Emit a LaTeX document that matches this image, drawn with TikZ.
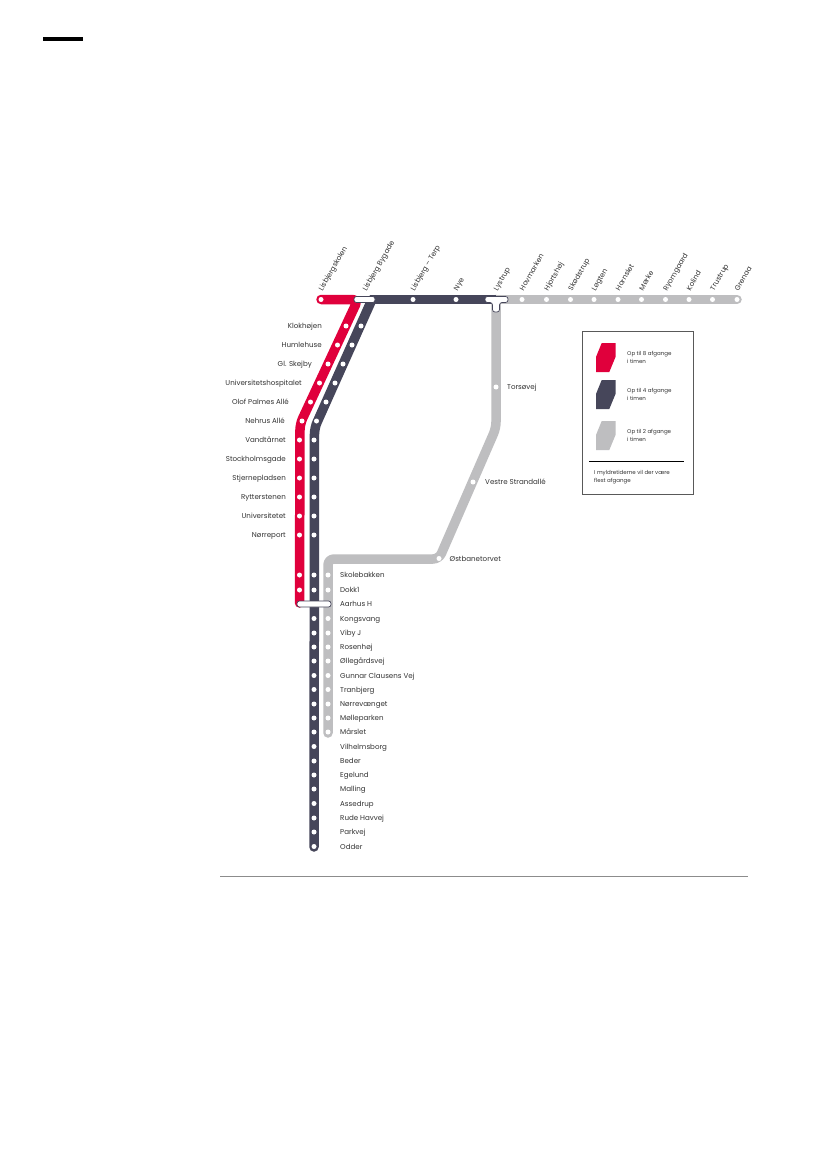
\documentclass[tikz,border=0pt]{standalone}
\usepackage{fontspec}
\setmainfont{Poppins}
\usepackage{xcolor}
\usetikzlibrary{positioning}
\definecolor{railred}{HTML}{E0003C}
\definecolor{raildark}{HTML}{46465A}
\definecolor{railgray}{HTML}{BEBEC0}
\tikzset{
  rail/.style={line width=9.5pt,line join=round,line cap=round,rounded corners=6pt},
  stop/.style={circle,fill=white,inner sep=0pt,minimum size=5pt},
  hub/.style={draw=raildark,fill=white,rounded corners=2.5pt,inner sep=0pt,minimum height=6pt,line width=0.7pt},
  lbl/.style={font=\fontsize{7.1}{8}\selectfont,text=black!80,inner sep=0pt,text height=6.7pt,text depth=1pt},
  toplbl/.style={lbl,rotate=60,anchor=west},
  keylbl/.style={font=\fontsize{5.5}{8}\selectfont,text=black!80,inner sep=0pt,align=left,anchor=west}
}
\begin{document}
\begin{tikzpicture}[x=1pt,y=-1pt]
\useasboundingbox (0,0) rectangle (827,1169);
\fill[white] (0,0) rectangle (827,1169);
\draw[line width=4pt] (43,39)--(83,39);
\draw[black!45,line width=0.8pt] (220,876)--(748,876);
% lines
\coordinate (g1) at (737,299.5); \coordinate (g2) at (496,299.5); \coordinate (g3) at (496,428);
\coordinate (g4) at (439,559); \coordinate (g5) at (328,559); \coordinate (g6) at (328,733);
\coordinate (r1) at (321,299.5); \coordinate (r2) at (358,299.5); \coordinate (r3) at (300,424); \coordinate (r4) at (299.5,603);
\coordinate (d1) at (496,299.5); \coordinate (d2) at (372,299.5); \coordinate (d3) at (314.5,428); \coordinate (d4) at (314,847);
\draw[rail,railgray] (g1)--(g2);
\draw[rail,railgray] (g2)--(g3)--(g4)--(g5)--(g6);
\draw[rail,railred] (r1)--(r2)--(r3)--(r4);
\draw[rail,raildark,line cap=butt] (d1)--(d2);
\draw[rail,raildark] (d2)--(d3)--(d4);
% top row
\foreach \x/\name in {321/Lisbjergskolen,413/Lisbjerg -- Terp,456/Nye,522/Hovmarken,546.5/Hjortshøj,570.5/Skødstrup,594/Løgten,618/Hornslet,641.5/Mørke,665.5/Ryomgaard,689/Kolind,712.5/Trustrup,737/Grenaa}{
  \node[stop] (s\x) at (\x,299.5) {};
  \node[toplbl] at (\x-1,290) {\name};
}
% hubs
\node[hub,minimum width=21pt] (bygade) at (364.5,299.5) {};
\node[toplbl] at (364,290) {Lisbjerg Bygade};
\draw[draw=raildark,fill=white,line width=0.7pt,rounded corners=2.5pt] (485,296.5)--(508,296.5)--(508,302.5)--(499.5,302.5)--(499.5,312)--(492.5,312)--(492.5,302.5)--(485,302.5)--cycle;
\node[toplbl] at (495,290) {Lystrup};
\node[hub,minimum width=34pt] (aarhus) at (314,604) {};
% diagonal part, red and dark
\foreach \x/\xx/\y/\e/\name in {346/361/326/322/Klokhøjen,337.5/352/345/322/Humlehuse,328/343/364/312/Gl. Skejby,319.5/335/383/302/Universitetshospitalet,310.5/326/402/289/Olof Palmes Allé,302/316.5/421/285/Nehrus Allé}{
  \node[stop] (r\y) at (\x,\y) {};
  \node[stop] (d\y) at (\xx,\y) {};
  \node[lbl,anchor=east] at (\e,\y) {\name};
}
% straight part
\foreach \y/\name in {440/Vandtårnet,459/Stockholmsgade,478/Stjernepladsen,497/Rytterstenen,516/Universitetet,535/Nørreport}{
  \node[stop] (r\y) at (299.5,\y) {};
  \node[stop] (d\y) at (314,\y) {};
  \node[lbl,anchor=east] at (286,\y) {\name};
}
% south
\foreach \y/\name in {575/Skolebakken,590/Dokk1}{
  \node[stop] (r\y) at (299.5,\y) {};
  \node[stop] (d\y) at (314,\y) {};
  \node[stop] (g\y) at (328,\y) {};
  \node[lbl,anchor=west] at (340,\y) {\name};
}
\node[lbl,anchor=west] at (340,604) {Aarhus H};
\foreach \y/\name in {618.5/Kongsvang,633/Viby J,647/Rosenhøj,661/Øllegårdsvej,675.5/Gunnar Clausens Vej,689.5/Tranbjerg,704/Nørrevænget,718/Mølleparken,732/Mårslet}{
  \node[stop] (d\y) at (314,\y) {};
  \node[stop] (g\y) at (328,\y) {};
  \node[lbl,anchor=west] at (340,\y) {\name};
}
\foreach \y/\name in {746.5/Vilhelmsborg,761/Beder,775/Egelund,789/Malling,803.5/Assedrup,818/Rude Havvej,832/Parkvej,846.5/Odder}{
  \node[stop] (d\y) at (314,\y) {};
  \node[lbl,anchor=west] at (340,\y) {\name};
}
% gray branch
\node[stop] (tor) at (496,387) {};
\node[lbl,anchor=west] at (507,387) {Torsøvej};
\node[stop] (ves) at (473,482) {};
\node[lbl,anchor=west] at (485,482) {Vestre Strandallé};
\node[stop] (ost) at (439,558.5) {};
\node[lbl,anchor=west] at (449.5,558.5) {Østbanetorvet};
% legend
\draw[black!65,line width=0.8pt] (582,331) rectangle (693.5,494.5);
\foreach \y/\col/\n in {343/railred/8,380/raildark/4,421/railgray/2}{
  \fill[\col] (601.7,\y)--(615.5,\y)--(615.5,\y+14)--(609.3,\y+29)--(596,\y+29)--(596,\y+14)--cycle;
  \node[keylbl] at (627,\y+14.5) {Op til \n\ afgange\\i timen};
}
\draw[line width=0.8pt] (589,461.5)--(684,461.5);
\node[keylbl] at (594,477.5) {I myldretiderne vil der være\\flest afgange};
\end{tikzpicture}
\end{document}
